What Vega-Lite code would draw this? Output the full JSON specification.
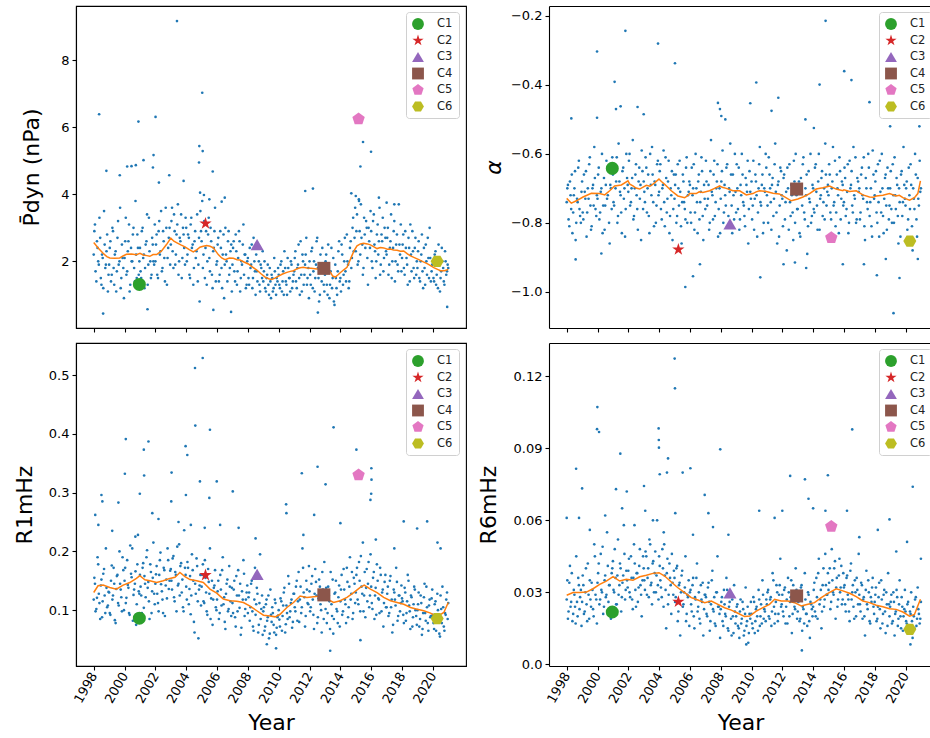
{
"$schema":"https://vega.github.io/schema/vega-lite/v6.json",
"padding":{"left":12,"top":5,"right":0,"bottom":0},
"autosize":{"type":"pad"},
"bounds":"flush",
"columns":2,
"spacing":{"row":15,"column":83},
"config":{
 "font":"DejaVu Sans",
 "view":{"stroke":"black","strokeWidth":1.1},
 "axis":{"grid":false,"domainColor":"black","domainWidth":1.1,"tickColor":"black","tickWidth":1.1,"tickSize":4,"labelColor":"black","labelFontSize":13,"labelPadding":3,"titleColor":"black","titleFontSize":22,"titleFontWeight":"normal"}
},
"resolve":{"scale":{"x":"independent","y":"independent","color":"independent","shape":"independent"},"legend":{"color":"independent","shape":"independent"}},
"datasets":{
"cs":[
{"c":"C1","t":2000.96,"p":1.31,"a":-0.642,"r":0.0864,"s":0.0218},
{"c":"C2","t":2005.25,"p":3.13,"a":-0.877,"r":0.1596,"s":0.0261},
{"c":"C3","t":2008.6,"p":2.5,"a":-0.803,"r":0.161,"s":0.0298},
{"c":"C4","t":2012.93,"p":1.79,"a":-0.702,"r":0.126,"s":0.0285},
{"c":"C5","t":2015.18,"p":6.25,"a":-0.8435,"r":0.33,"s":0.0574},
{"c":"C6","t":2020.28,"p":2.0,"a":-0.853,"r":0.0857,"s":0.0146}
],
"lp":[{"t":1998.0,"p":2.56},{"t":1998.3,"p":2.39},{"t":1998.61,"p":2.24},{"t":1998.85,"p":2.14},{"t":1999.04,"p":2.1},{"t":1999.35,"p":2.09},{"t":1999.69,"p":2.1},{"t":1999.9,"p":2.16},{"t":2000.12,"p":2.21},{"t":2000.45,"p":2.22},{"t":2000.77,"p":2.2},{"t":2001.0,"p":2.24},{"t":2001.21,"p":2.19},{"t":2001.45,"p":2.17},{"t":2001.64,"p":2.15},{"t":2001.85,"p":2.2},{"t":2002.08,"p":2.2},{"t":2002.4,"p":2.31},{"t":2002.72,"p":2.5},{"t":2003.0,"p":2.69},{"t":2003.2,"p":2.6},{"t":2003.37,"p":2.56},{"t":2003.65,"p":2.49},{"t":2003.92,"p":2.43},{"t":2004.2,"p":2.35},{"t":2004.46,"p":2.28},{"t":2004.7,"p":2.35},{"t":2004.89,"p":2.42},{"t":2005.1,"p":2.45},{"t":2005.33,"p":2.47},{"t":2005.55,"p":2.45},{"t":2005.76,"p":2.4},{"t":2006.08,"p":2.2},{"t":2006.3,"p":2.1},{"t":2006.52,"p":2.05},{"t":2006.8,"p":2.1},{"t":2007.06,"p":2.09},{"t":2007.3,"p":2.05},{"t":2007.49,"p":2.04},{"t":2007.75,"p":1.98},{"t":2008.03,"p":1.92},{"t":2008.3,"p":1.83},{"t":2008.58,"p":1.74},{"t":2008.85,"p":1.63},{"t":2009.12,"p":1.53},{"t":2009.35,"p":1.48},{"t":2009.55,"p":1.46},{"t":2009.75,"p":1.5},{"t":2009.99,"p":1.56},{"t":2010.25,"p":1.62},{"t":2010.53,"p":1.67},{"t":2010.75,"p":1.7},{"t":2010.96,"p":1.72},{"t":2011.2,"p":1.78},{"t":2011.39,"p":1.81},{"t":2011.6,"p":1.82},{"t":2011.83,"p":1.8},{"t":2012.1,"p":1.79},{"t":2012.48,"p":1.77},{"t":2012.7,"p":1.79},{"t":2012.91,"p":1.8},{"t":2013.15,"p":1.76},{"t":2013.34,"p":1.69},{"t":2013.5,"p":1.56},{"t":2013.67,"p":1.53},{"t":2013.85,"p":1.6},{"t":2013.99,"p":1.66},{"t":2014.2,"p":1.74},{"t":2014.43,"p":1.82},{"t":2014.6,"p":2.0},{"t":2014.75,"p":2.17},{"t":2014.9,"p":2.33},{"t":2015.08,"p":2.46},{"t":2015.3,"p":2.52},{"t":2015.51,"p":2.54},{"t":2015.75,"p":2.52},{"t":2015.95,"p":2.49},{"t":2016.15,"p":2.44},{"t":2016.38,"p":2.38},{"t":2016.6,"p":2.41},{"t":2016.81,"p":2.4},{"t":2017.05,"p":2.36},{"t":2017.25,"p":2.37},{"t":2017.45,"p":2.34},{"t":2017.68,"p":2.33},{"t":2017.9,"p":2.3},{"t":2018.11,"p":2.31},{"t":2018.35,"p":2.22},{"t":2018.55,"p":2.16},{"t":2018.8,"p":2.11},{"t":2019.09,"p":2.05},{"t":2019.35,"p":1.99},{"t":2019.63,"p":1.93},{"t":2019.85,"p":1.87},{"t":2020.06,"p":1.81},{"t":2020.3,"p":1.76},{"t":2020.5,"p":1.72},{"t":2020.75,"p":1.72},{"t":2021.0,"p":1.76}],
"la":[{"t":1998.0,"a":-0.729},{"t":1998.3,"a":-0.743},{"t":1998.63,"a":-0.736},{"t":1999.06,"a":-0.725},{"t":1999.6,"a":-0.714},{"t":2000.14,"a":-0.715},{"t":2000.47,"a":-0.719},{"t":2000.79,"a":-0.707},{"t":2001.11,"a":-0.693},{"t":2001.55,"a":-0.69},{"t":2001.98,"a":-0.678},{"t":2002.1,"a":-0.688},{"t":2002.3,"a":-0.693},{"t":2002.5,"a":-0.699},{"t":2002.74,"a":-0.702},{"t":2003.17,"a":-0.691},{"t":2003.4,"a":-0.694},{"t":2003.6,"a":-0.688},{"t":2003.99,"a":-0.673},{"t":2004.15,"a":-0.68},{"t":2004.36,"a":-0.688},{"t":2004.79,"a":-0.707},{"t":2005.22,"a":-0.722},{"t":2005.66,"a":-0.727},{"t":2005.9,"a":-0.72},{"t":2005.98,"a":-0.715},{"t":2006.41,"a":-0.715},{"t":2006.6,"a":-0.71},{"t":2006.84,"a":-0.712},{"t":2007.28,"a":-0.707},{"t":2007.6,"a":-0.70},{"t":2007.93,"a":-0.693},{"t":2008.1,"a":-0.697},{"t":2008.36,"a":-0.70},{"t":2008.79,"a":-0.707},{"t":2009.23,"a":-0.707},{"t":2009.66,"a":-0.719},{"t":2010.09,"a":-0.715},{"t":2010.3,"a":-0.71},{"t":2010.52,"a":-0.707},{"t":2010.96,"a":-0.709},{"t":2011.39,"a":-0.714},{"t":2011.8,"a":-0.716},{"t":2012.04,"a":-0.722},{"t":2012.58,"a":-0.736},{"t":2013.01,"a":-0.731},{"t":2013.34,"a":-0.725},{"t":2013.77,"a":-0.715},{"t":2014.2,"a":-0.702},{"t":2014.63,"a":-0.698},{"t":2014.9,"a":-0.695},{"t":2015.07,"a":-0.693},{"t":2015.5,"a":-0.702},{"t":2015.93,"a":-0.707},{"t":2016.0,"a":-0.704},{"t":2016.37,"a":-0.709},{"t":2016.8,"a":-0.707},{"t":2017.23,"a":-0.719},{"t":2017.66,"a":-0.725},{"t":2017.9,"a":-0.726},{"t":2018.1,"a":-0.722},{"t":2018.53,"a":-0.72},{"t":2018.96,"a":-0.715},{"t":2019.39,"a":-0.722},{"t":2019.6,"a":-0.72},{"t":2019.83,"a":-0.727},{"t":2020.26,"a":-0.734},{"t":2020.58,"a":-0.727},{"t":2020.8,"a":-0.715},{"t":2020.97,"a":-0.678}],
"lr":[{"t":1998.0,"r":0.130},{"t":1998.28,"r":0.1415},{"t":1998.61,"r":0.1426},{"t":1999.04,"r":0.1386},{"t":1999.47,"r":0.1358},{"t":1999.91,"r":0.1426},{"t":2000.34,"r":0.147},{"t":2000.77,"r":0.154},{"t":2000.99,"r":0.1585},{"t":2001.32,"r":0.1517},{"t":2001.64,"r":0.150},{"t":2002.08,"r":0.147},{"t":2002.51,"r":0.150},{"t":2002.94,"r":0.154},{"t":2003.27,"r":0.156},{"t":2003.59,"r":0.164},{"t":2003.92,"r":0.157},{"t":2004.24,"r":0.152},{"t":2004.68,"r":0.15},{"t":2005.11,"r":0.147},{"t":2005.54,"r":0.1358},{"t":2005.98,"r":0.129},{"t":2006.41,"r":0.119},{"t":2006.84,"r":0.116},{"t":2007.28,"r":0.115},{"t":2007.71,"r":0.113},{"t":2008.14,"r":0.107},{"t":2008.58,"r":0.099},{"t":2009.01,"r":0.0915},{"t":2009.44,"r":0.090},{"t":2009.77,"r":0.0886},{"t":2010.09,"r":0.093},{"t":2010.53,"r":0.1045},{"t":2010.96,"r":0.113},{"t":2011.39,"r":0.124},{"t":2011.83,"r":0.1216},{"t":2012.26,"r":0.123},{"t":2012.69,"r":0.124},{"t":2013.13,"r":0.119},{"t":2013.56,"r":0.113},{"t":2013.99,"r":0.116},{"t":2014.43,"r":0.1216},{"t":2014.86,"r":0.130},{"t":2015.29,"r":0.1386},{"t":2015.55,"r":0.1426},{"t":2015.95,"r":0.1358},{"t":2016.38,"r":0.130},{"t":2016.81,"r":0.1216},{"t":2017.25,"r":0.116},{"t":2017.68,"r":0.113},{"t":2018.11,"r":0.110},{"t":2018.55,"r":0.1045},{"t":2018.98,"r":0.1017},{"t":2019.41,"r":0.099},{"t":2019.85,"r":0.095},{"t":2020.28,"r":0.089},{"t":2020.71,"r":0.096},{"t":2021.0,"r":0.113}],
"ls":[{"t":1998.0,"s":0.0288},{"t":1998.41,"s":0.0299},{"t":1998.84,"s":0.0299},{"t":1999.28,"s":0.0301},{"t":1999.71,"s":0.0315},{"t":2000.14,"s":0.0333},{"t":2000.57,"s":0.0347},{"t":2001.01,"s":0.0365},{"t":2001.44,"s":0.0347},{"t":2001.87,"s":0.0354},{"t":2002.3,"s":0.035},{"t":2002.74,"s":0.0365},{"t":2003.17,"s":0.0371},{"t":2003.6,"s":0.0379},{"t":2003.99,"s":0.0382},{"t":2004.36,"s":0.0368},{"t":2004.79,"s":0.0343},{"t":2005.22,"s":0.0319},{"t":2005.66,"s":0.0299},{"t":2006.09,"s":0.0278},{"t":2006.52,"s":0.0268},{"t":2006.96,"s":0.0257},{"t":2007.39,"s":0.0264},{"t":2007.82,"s":0.025},{"t":2008.25,"s":0.0236},{"t":2008.69,"s":0.0226},{"t":2009.12,"s":0.0213},{"t":2009.55,"s":0.0199},{"t":2009.88,"s":0.0201},{"t":2010.31,"s":0.0222},{"t":2010.74,"s":0.0236},{"t":2011.17,"s":0.025},{"t":2011.5,"s":0.0271},{"t":2011.93,"s":0.0264},{"t":2012.36,"s":0.0264},{"t":2012.8,"s":0.0257},{"t":2013.23,"s":0.0243},{"t":2013.66,"s":0.025},{"t":2014.09,"s":0.0257},{"t":2014.53,"s":0.0278},{"t":2014.96,"s":0.0296},{"t":2015.5,"s":0.0315},{"t":2015.93,"s":0.0306},{"t":2016.37,"s":0.0296},{"t":2016.8,"s":0.0282},{"t":2017.23,"s":0.0264},{"t":2017.66,"s":0.0257},{"t":2018.1,"s":0.0246},{"t":2018.53,"s":0.024},{"t":2018.96,"s":0.0232},{"t":2019.39,"s":0.0229},{"t":2019.83,"s":0.0218},{"t":2020.26,"s":0.0201},{"t":2020.58,"s":0.0208},{"t":2020.97,"s":0.0271}],
"pts":[
{"t":1998.04,"p":2.9,"a":-0.70,"r":0.155,"s":0.035},{"t":1998.12,"p":1.7,"a":-0.79,"r":0.098,"s":0.022},{"t":1998.21,"p":2.6,"a":-0.68,"r":0.121,"s":0.041},{"t":1998.29,"p":2.0,"a":-0.76,"r":0.178,"s":0.026},{"t":1998.37,"p":3.3,"a":-0.83,"r":0.112,"s":0.018},{"t":1998.46,"p":1.5,"a":-0.72,"r":0.142,"s":0.031},{"t":1998.54,"p":2.2,"a":-0.65,"r":0.088,"s":0.024},{"t":1998.62,"p":1.2,"a":-0.80,"r":0.162,"s":0.045},{"t":1998.71,"p":2.5,"a":-0.74,"r":0.125,"s":0.020},{"t":1998.79,"p":1.9,"a":-0.62,"r":0.205,"s":0.033},{"t":1998.87,"p":2.8,"a":-0.78,"r":0.105,"s":0.028},{"t":1998.96,"p":1.6,"a":-0.71,"r":0.131,"s":0.016},
{"t":1999.04,"p":2.4,"a":-0.77,"r":0.095,"s":0.037},{"t":1999.12,"p":1.4,"a":-0.66,"r":0.150,"s":0.021},{"t":1999.21,"p":3.0,"a":-0.73,"r":0.118,"s":0.030},{"t":1999.29,"p":1.8,"a":-0.84,"r":0.172,"s":0.025},{"t":1999.37,"p":2.2,"a":-0.70,"r":0.083,"s":0.042},{"t":1999.46,"p":1.1,"a":-0.63,"r":0.136,"s":0.019},{"t":1999.54,"p":2.7,"a":-0.75,"r":0.160,"s":0.027},{"t":1999.62,"p":1.9,"a":-0.81,"r":0.108,"s":0.034},{"t":1999.71,"p":3.6,"a":-0.69,"r":0.145,"s":0.023},{"t":1999.79,"p":1.5,"a":-0.58,"r":0.122,"s":0.050},{"t":1999.87,"p":2.1,"a":-0.76,"r":0.190,"s":0.029},{"t":1999.96,"p":0.9,"a":-0.72,"r":0.100,"s":0.017},
{"t":2000.04,"p":2.6,"a":-0.66,"r":0.172,"s":0.038},{"t":2000.12,"p":1.6,"a":-0.79,"r":0.121,"s":0.025},{"t":2000.21,"p":2.3,"a":-0.71,"r":0.143,"s":0.046},{"t":2000.29,"p":3.1,"a":-0.60,"r":0.095,"s":0.030},{"t":2000.37,"p":1.3,"a":-0.75,"r":0.210,"s":0.021},{"t":2000.46,"p":2.0,"a":-0.82,"r":0.156,"s":0.035},{"t":2000.54,"p":2.8,"a":-0.69,"r":0.082,"s":0.028},{"t":2000.62,"p":1.8,"a":-0.73,"r":0.135,"s":0.055},{"t":2000.71,"p":3.8,"a":-0.64,"r":0.166,"s":0.026},{"t":2000.79,"p":1.5,"a":-0.86,"r":0.110,"s":0.033},{"t":2000.87,"p":2.4,"a":-0.70,"r":0.228,"s":0.019},{"t":2000.96,"p":2.0,"a":-0.61,"r":0.128,"s":0.040},
{"t":2001.04,"p":1.7,"a":-0.74,"r":0.140,"s":0.031},{"t":2001.12,"p":2.9,"a":-0.63,"r":0.095,"s":0.048},{"t":2001.21,"p":2.1,"a":-0.68,"r":0.180,"s":0.025},{"t":2001.29,"p":1.2,"a":-0.80,"r":0.158,"s":0.037},{"t":2001.37,"p":2.5,"a":-0.57,"r":0.122,"s":0.029},{"t":2001.46,"p":3.4,"a":-0.71,"r":0.202,"s":0.042},{"t":2001.54,"p":1.9,"a":-0.77,"r":0.148,"s":0.022},{"t":2001.62,"p":2.3,"a":-0.65,"r":0.085,"s":0.034},{"t":2001.71,"p":1.5,"a":-0.73,"r":0.165,"s":0.058},{"t":2001.79,"p":2.7,"a":-0.84,"r":0.132,"s":0.027},{"t":2001.87,"p":2.0,"a":-0.60,"r":0.215,"s":0.039},{"t":2001.96,"p":3.1,"a":-0.69,"r":0.110,"s":0.032},
{"t":2002.04,"p":2.5,"a":-0.62,"r":0.161,"s":0.044},{"t":2002.12,"p":1.6,"a":-0.75,"r":0.128,"s":0.028},{"t":2002.21,"p":2.9,"a":-0.70,"r":0.098,"s":0.036},{"t":2002.29,"p":2.2,"a":-0.56,"r":0.185,"s":0.023},{"t":2002.37,"p":3.5,"a":-0.78,"r":0.144,"s":0.050},{"t":2002.46,"p":1.8,"a":-0.66,"r":0.118,"s":0.031},{"t":2002.54,"p":2.6,"a":-0.72,"r":0.172,"s":0.038},{"t":2002.62,"p":1.4,"a":-0.82,"r":0.090,"s":0.026},{"t":2002.71,"p":3.0,"a":-0.64,"r":0.152,"s":0.041},{"t":2002.79,"p":2.1,"a":-0.69,"r":0.205,"s":0.033},{"t":2002.87,"p":2.7,"a":-0.59,"r":0.136,"s":0.020},{"t":2002.96,"p":1.9,"a":-0.76,"r":0.167,"s":0.045},
{"t":2003.04,"p":3.2,"a":-0.71,"r":0.150,"s":0.035},{"t":2003.12,"p":2.3,"a":-0.61,"r":0.188,"s":0.047},{"t":2003.21,"p":3.4,"a":-0.77,"r":0.122,"s":0.029},{"t":2003.29,"p":1.9,"a":-0.66,"r":0.165,"s":0.040},{"t":2003.37,"p":2.8,"a":-0.83,"r":0.098,"s":0.052},{"t":2003.46,"p":3.7,"a":-0.69,"r":0.142,"s":0.033},{"t":2003.54,"p":2.0,"a":-0.58,"r":0.212,"s":0.025},{"t":2003.62,"p":2.6,"a":-0.74,"r":0.175,"s":0.043},{"t":2003.71,"p":1.5,"a":-0.68,"r":0.130,"s":0.038},{"t":2003.79,"p":3.0,"a":-0.80,"r":0.105,"s":0.030},{"t":2003.87,"p":2.4,"a":-0.63,"r":0.236,"s":0.060},{"t":2003.96,"p":3.3,"a":-0.72,"r":0.160,"s":0.027},
{"t":2004.04,"p":2.0,"a":-0.65,"r":0.118,"s":0.041},{"t":2004.12,"p":2.8,"a":-0.76,"r":0.172,"s":0.032},{"t":2004.21,"p":1.6,"a":-0.70,"r":0.136,"s":0.048},{"t":2004.29,"p":3.1,"a":-0.59,"r":0.093,"s":0.024},{"t":2004.37,"p":2.4,"a":-0.81,"r":0.195,"s":0.037},{"t":2004.46,"p":1.3,"a":-0.67,"r":0.150,"s":0.015},{"t":2004.54,"p":2.6,"a":-0.73,"r":0.062,"s":0.044},{"t":2004.62,"p":2.1,"a":-0.62,"r":0.128,"s":0.029},{"t":2004.71,"p":3.4,"a":-0.78,"r":0.175,"s":0.036},{"t":2004.79,"p":1.9,"a":-0.72,"r":0.052,"s":0.021},{"t":2004.87,"p":0.8,"a":-0.85,"r":0.142,"s":0.034},{"t":2004.96,"p":2.9,"a":-0.66,"r":0.108,"s":0.039},
{"t":2005.04,"p":3.8,"a":-0.69,"r":0.160,"s":0.026},{"t":2005.12,"p":2.2,"a":-0.80,"r":0.115,"s":0.040},{"t":2005.21,"p":1.5,"a":-0.63,"r":0.185,"s":0.018},{"t":2005.29,"p":2.9,"a":-0.75,"r":0.130,"s":0.033},{"t":2005.37,"p":2.0,"a":-0.71,"r":0.092,"s":0.012},{"t":2005.46,"p":3.3,"a":-0.86,"r":0.148,"s":0.037},{"t":2005.54,"p":1.7,"a":-0.66,"r":0.205,"s":0.024},{"t":2005.62,"p":2.6,"a":-0.74,"r":0.120,"s":0.030},{"t":2005.71,"p":1.2,"a":-0.79,"r":0.075,"s":0.045},{"t":2005.79,"p":2.4,"a":-0.61,"r":0.138,"s":0.021},{"t":2005.87,"p":3.6,"a":-0.72,"r":0.168,"s":0.028},{"t":2005.96,"p":1.9,"a":-0.68,"r":0.100,"s":0.016},
{"t":2006.04,"p":2.5,"a":-0.77,"r":0.132,"s":0.031},{"t":2006.12,"p":1.4,"a":-0.64,"r":0.085,"s":0.022},{"t":2006.21,"p":2.9,"a":-0.70,"r":0.160,"s":0.036},{"t":2006.29,"p":1.8,"a":-0.82,"r":0.108,"s":0.015},{"t":2006.37,"p":2.2,"a":-0.60,"r":0.190,"s":0.027},{"t":2006.46,"p":0.9,"a":-0.74,"r":0.122,"s":0.042},{"t":2006.54,"p":3.0,"a":-0.68,"r":0.068,"s":0.024},{"t":2006.62,"p":2.0,"a":-0.79,"r":0.145,"s":0.019},{"t":2006.71,"p":2.6,"a":-0.71,"r":0.098,"s":0.033},{"t":2006.79,"p":1.6,"a":-0.65,"r":0.175,"s":0.026},{"t":2006.87,"p":2.3,"a":-0.85,"r":0.115,"s":0.012},{"t":2006.96,"p":1.1,"a":-0.73,"r":0.138,"s":0.029},
{"t":2007.04,"p":2.4,"a":-0.62,"r":0.095,"s":0.028},{"t":2007.12,"p":1.7,"a":-0.75,"r":0.150,"s":0.020},{"t":2007.21,"p":2.8,"a":-0.69,"r":0.072,"s":0.034},{"t":2007.29,"p":1.3,"a":-0.80,"r":0.125,"s":0.014},{"t":2007.37,"p":2.1,"a":-0.56,"r":0.168,"s":0.025},{"t":2007.46,"p":2.6,"a":-0.72,"r":0.104,"s":0.039},{"t":2007.54,"p":1.5,"a":-0.66,"r":0.058,"s":0.022},{"t":2007.62,"p":1.9,"a":-0.78,"r":0.132,"s":0.017},{"t":2007.71,"p":3.1,"a":-0.70,"r":0.185,"s":0.030},{"t":2007.79,"p":2.2,"a":-0.63,"r":0.090,"s":0.045},{"t":2007.87,"p":1.2,"a":-0.76,"r":0.118,"s":0.024},{"t":2007.96,"p":2.0,"a":-0.83,"r":0.142,"s":0.011},
{"t":2008.04,"p":1.5,"a":-0.68,"r":0.122,"s":0.026},{"t":2008.12,"p":2.4,"a":-0.59,"r":0.082,"s":0.018},{"t":2008.21,"p":1.9,"a":-0.77,"r":0.145,"s":0.031},{"t":2008.29,"p":1.2,"a":-0.72,"r":0.098,"s":0.021},{"t":2008.37,"p":2.7,"a":-0.64,"r":0.065,"s":0.036},{"t":2008.46,"p":1.7,"a":-0.81,"r":0.172,"s":0.015},{"t":2008.54,"p":2.2,"a":-0.70,"r":0.110,"s":0.024},{"t":2008.62,"p":1.4,"a":-0.57,"r":0.128,"s":0.029},{"t":2008.71,"p":2.0,"a":-0.75,"r":0.075,"s":0.012},{"t":2008.79,"p":1.1,"a":-0.66,"r":0.195,"s":0.020},{"t":2008.87,"p":1.8,"a":-0.79,"r":0.102,"s":0.033},{"t":2008.96,"p":2.3,"a":-0.71,"r":0.058,"s":0.017},
{"t":2009.04,"p":1.7,"a":-0.63,"r":0.105,"s":0.024},{"t":2009.12,"p":1.2,"a":-0.76,"r":0.072,"s":0.016},{"t":2009.21,"p":1.5,"a":-0.82,"r":0.118,"s":0.011},{"t":2009.29,"p":1.9,"a":-0.69,"r":0.088,"s":0.027},{"t":2009.37,"p":1.0,"a":-0.60,"r":0.052,"s":0.019},{"t":2009.46,"p":1.4,"a":-0.74,"r":0.135,"s":0.023},{"t":2009.54,"p":1.6,"a":-0.78,"r":0.080,"s":0.014},{"t":2009.62,"p":1.1,"a":-0.67,"r":0.095,"s":0.032},{"t":2009.71,"p":2.1,"a":-0.71,"r":0.062,"s":0.018},{"t":2009.79,"p":1.3,"a":-0.86,"r":0.112,"s":0.009},{"t":2009.87,"p":1.5,"a":-0.65,"r":0.070,"s":0.021},{"t":2009.96,"p":1.8,"a":-0.73,"r":0.091,"s":0.026},
{"t":2010.04,"p":1.3,"a":-0.79,"r":0.084,"s":0.017},{"t":2010.12,"p":1.9,"a":-0.62,"r":0.120,"s":0.028},{"t":2010.21,"p":1.1,"a":-0.73,"r":0.065,"s":0.013},{"t":2010.29,"p":1.7,"a":-0.68,"r":0.108,"s":0.023},{"t":2010.37,"p":2.3,"a":-0.84,"r":0.138,"s":0.020},{"t":2010.46,"p":1.4,"a":-0.70,"r":0.076,"s":0.031},{"t":2010.54,"p":1.0,"a":-0.58,"r":0.095,"s":0.016},{"t":2010.62,"p":1.8,"a":-0.75,"r":0.158,"s":0.025},{"t":2010.71,"p":1.5,"a":-0.66,"r":0.088,"s":0.035},{"t":2010.79,"p":2.0,"a":-0.80,"r":0.112,"s":0.019},{"t":2010.87,"p":1.2,"a":-0.71,"r":0.070,"s":0.022},{"t":2010.96,"p":1.6,"a":-0.64,"r":0.128,"s":0.027},
{"t":2011.04,"p":2.1,"a":-0.75,"r":0.105,"s":0.030},{"t":2011.12,"p":1.4,"a":-0.61,"r":0.140,"s":0.020},{"t":2011.21,"p":1.8,"a":-0.70,"r":0.082,"s":0.027},{"t":2011.29,"p":2.5,"a":-0.82,"r":0.165,"s":0.016},{"t":2011.37,"p":1.0,"a":-0.67,"r":0.118,"s":0.038},{"t":2011.46,"p":1.6,"a":-0.73,"r":0.095,"s":0.024},{"t":2011.54,"p":2.2,"a":-0.57,"r":0.205,"s":0.021},{"t":2011.62,"p":1.3,"a":-0.77,"r":0.130,"s":0.033},{"t":2011.71,"p":1.9,"a":-0.69,"r":0.072,"s":0.018},{"t":2011.79,"p":2.7,"a":-0.84,"r":0.150,"s":0.029},{"t":2011.87,"p":1.5,"a":-0.64,"r":0.112,"s":0.044},{"t":2011.96,"p":0.9,"a":-0.72,"r":0.175,"s":0.025},
{"t":2012.04,"p":1.6,"a":-0.81,"r":0.098,"s":0.022},{"t":2012.12,"p":2.3,"a":-0.66,"r":0.145,"s":0.031},{"t":2012.21,"p":1.2,"a":-0.74,"r":0.118,"s":0.017},{"t":2012.29,"p":2.0,"a":-0.88,"r":0.068,"s":0.027},{"t":2012.37,"p":1.5,"a":-0.70,"r":0.170,"s":0.036},{"t":2012.46,"p":2.6,"a":-0.63,"r":0.125,"s":0.020},{"t":2012.54,"p":1.8,"a":-0.78,"r":0.088,"s":0.028},{"t":2012.62,"p":0.8,"a":-0.72,"r":0.152,"s":0.013},{"t":2012.71,"p":2.2,"a":-0.85,"r":0.110,"s":0.033},{"t":2012.79,"p":1.4,"a":-0.68,"r":0.062,"s":0.024},{"t":2012.87,"p":1.9,"a":-0.60,"r":0.135,"s":0.040},{"t":2012.96,"p":1.1,"a":-0.76,"r":0.182,"s":0.019},
{"t":2013.04,"p":2.0,"a":-0.70,"r":0.102,"s":0.026},{"t":2013.12,"p":1.3,"a":-0.83,"r":0.078,"s":0.018},{"t":2013.21,"p":2.5,"a":-0.67,"r":0.140,"s":0.032},{"t":2013.29,"p":0.9,"a":-0.75,"r":0.115,"s":0.014},{"t":2013.37,"p":1.7,"a":-0.61,"r":0.165,"s":0.023},{"t":2013.46,"p":1.2,"a":-0.79,"r":0.090,"s":0.038},{"t":2013.54,"p":2.1,"a":-0.72,"r":0.060,"s":0.021},{"t":2013.62,"p":0.7,"a":-0.89,"r":0.128,"s":0.016},{"t":2013.71,"p":1.5,"a":-0.65,"r":0.150,"s":0.029},{"t":2013.79,"p":1.0,"a":-0.74,"r":0.098,"s":0.011},{"t":2013.87,"p":2.3,"a":-0.80,"r":0.122,"s":0.025},{"t":2013.96,"p":1.4,"a":-0.69,"r":0.072,"s":0.020},
{"t":2014.04,"p":1.1,"a":-0.76,"r":0.135,"s":0.031},{"t":2014.12,"p":2.2,"a":-0.64,"r":0.092,"s":0.022},{"t":2014.21,"p":1.6,"a":-0.71,"r":0.170,"s":0.036},{"t":2014.29,"p":2.7,"a":-0.82,"r":0.118,"s":0.019},{"t":2014.37,"p":1.4,"a":-0.60,"r":0.078,"s":0.044},{"t":2014.46,"p":2.0,"a":-0.73,"r":0.148,"s":0.027},{"t":2014.54,"p":1.2,"a":-0.67,"r":0.105,"s":0.015},{"t":2014.62,"p":2.4,"a":-0.78,"r":0.190,"s":0.033},{"t":2014.71,"p":1.8,"a":-0.70,"r":0.128,"s":0.024},{"t":2014.79,"p":3.0,"a":-0.57,"r":0.085,"s":0.046},{"t":2014.87,"p":2.3,"a":-0.75,"r":0.155,"s":0.029},{"t":2014.96,"p":3.6,"a":-0.69,"r":0.112,"s":0.038},
{"t":2015.04,"p":2.9,"a":-0.63,"r":0.160,"s":0.034},{"t":2015.12,"p":1.9,"a":-0.77,"r":0.118,"s":0.023},{"t":2015.21,"p":3.8,"a":-0.70,"r":0.182,"s":0.048},{"t":2015.29,"p":2.2,"a":-0.58,"r":0.098,"s":0.030},{"t":2015.37,"p":2.7,"a":-0.74,"r":0.140,"s":0.040},{"t":2015.46,"p":1.6,"a":-0.81,"r":0.215,"s":0.019},{"t":2015.54,"p":3.3,"a":-0.66,"r":0.125,"s":0.036},{"t":2015.62,"p":2.4,"a":-0.72,"r":0.088,"s":0.027},{"t":2015.71,"p":3.0,"a":-0.61,"r":0.170,"s":0.044},{"t":2015.79,"p":1.3,"a":-0.79,"r":0.145,"s":0.032},{"t":2015.87,"p":2.6,"a":-0.68,"r":0.105,"s":0.025},{"t":2015.96,"p":3.5,"a":-0.75,"r":0.195,"s":0.038},
{"t":2016.04,"p":2.0,"a":-0.64,"r":0.112,"s":0.033},{"t":2016.12,"p":3.2,"a":-0.78,"r":0.155,"s":0.022},{"t":2016.21,"p":2.5,"a":-0.71,"r":0.085,"s":0.037},{"t":2016.29,"p":1.5,"a":-0.83,"r":0.138,"s":0.027},{"t":2016.37,"p":2.8,"a":-0.62,"r":0.178,"s":0.018},{"t":2016.46,"p":2.2,"a":-0.69,"r":0.120,"s":0.042},{"t":2016.54,"p":3.6,"a":-0.75,"r":0.095,"s":0.030},{"t":2016.62,"p":1.9,"a":-0.58,"r":0.160,"s":0.024},{"t":2016.71,"p":2.6,"a":-0.73,"r":0.130,"s":0.035},{"t":2016.79,"p":1.7,"a":-0.80,"r":0.072,"s":0.020},{"t":2016.87,"p":3.0,"a":-0.67,"r":0.148,"s":0.031},{"t":2016.96,"p":2.3,"a":-0.71,"r":0.105,"s":0.046},
{"t":2017.04,"p":2.7,"a":-0.79,"r":0.128,"s":0.025},{"t":2017.12,"p":1.6,"a":-0.66,"r":0.090,"s":0.034},{"t":2017.21,"p":2.4,"a":-0.72,"r":0.150,"s":0.019},{"t":2017.29,"p":3.4,"a":-0.61,"r":0.105,"s":0.028},{"t":2017.37,"p":2.0,"a":-0.85,"r":0.062,"s":0.012},{"t":2017.46,"p":2.9,"a":-0.70,"r":0.135,"s":0.039},{"t":2017.54,"p":1.4,"a":-0.76,"r":0.118,"s":0.023},{"t":2017.62,"p":2.5,"a":-0.64,"r":0.172,"s":0.030},{"t":2017.71,"p":1.9,"a":-0.74,"r":0.082,"s":0.017},{"t":2017.79,"p":3.7,"a":-0.81,"r":0.125,"s":0.026},{"t":2017.87,"p":2.2,"a":-0.59,"r":0.098,"s":0.036},{"t":2017.96,"p":1.7,"a":-0.73,"r":0.142,"s":0.021},
{"t":2018.04,"p":2.5,"a":-0.68,"r":0.115,"s":0.029},{"t":2018.12,"p":1.8,"a":-0.77,"r":0.078,"s":0.018},{"t":2018.21,"p":2.9,"a":-0.63,"r":0.130,"s":0.024},{"t":2018.29,"p":2.1,"a":-0.84,"r":0.095,"s":0.034},{"t":2018.37,"p":1.3,"a":-0.71,"r":0.160,"s":0.015},{"t":2018.46,"p":2.4,"a":-0.60,"r":0.108,"s":0.027},{"t":2018.54,"p":3.1,"a":-0.78,"r":0.068,"s":0.021},{"t":2018.62,"p":1.7,"a":-0.73,"r":0.122,"s":0.031},{"t":2018.71,"p":2.3,"a":-0.66,"r":0.088,"s":0.013},{"t":2018.79,"p":1.5,"a":-0.82,"r":0.140,"s":0.025},{"t":2018.87,"p":2.7,"a":-0.70,"r":0.100,"s":0.038},{"t":2018.96,"p":2.0,"a":-0.75,"r":0.075,"s":0.020},
{"t":2019.04,"p":2.3,"a":-0.65,"r":0.110,"s":0.026},{"t":2019.12,"p":1.5,"a":-0.80,"r":0.072,"s":0.017},{"t":2019.21,"p":2.0,"a":-0.72,"r":0.125,"s":0.030},{"t":2019.29,"p":2.8,"a":-0.61,"r":0.058,"s":0.012},{"t":2019.37,"p":1.2,"a":-0.76,"r":0.095,"s":0.022},{"t":2019.46,"p":1.8,"a":-0.69,"r":0.145,"s":0.028},{"t":2019.54,"p":2.5,"a":-0.86,"r":0.082,"s":0.019},{"t":2019.62,"p":1.6,"a":-0.74,"r":0.105,"s":0.035},{"t":2019.71,"p":2.1,"a":-0.66,"r":0.065,"s":0.015},{"t":2019.79,"p":3.0,"a":-0.78,"r":0.118,"s":0.024},{"t":2019.87,"p":1.4,"a":-0.58,"r":0.090,"s":0.020},{"t":2019.96,"p":1.9,"a":-0.73,"r":0.135,"s":0.031},
{"t":2020.04,"p":1.5,"a":-0.70,"r":0.078,"s":0.018},{"t":2020.12,"p":2.2,"a":-0.82,"r":0.110,"s":0.025},{"t":2020.21,"p":1.3,"a":-0.64,"r":0.065,"s":0.014},{"t":2020.29,"p":1.9,"a":-0.76,"r":0.128,"s":0.022},{"t":2020.37,"p":2.5,"a":-0.69,"r":0.088,"s":0.030},{"t":2020.46,"p":1.1,"a":-0.88,"r":0.055,"s":0.011},{"t":2020.54,"p":1.7,"a":-0.73,"r":0.102,"s":0.020},{"t":2020.62,"p":2.0,"a":-0.60,"r":0.140,"s":0.027},{"t":2020.71,"p":1.4,"a":-0.79,"r":0.072,"s":0.016},{"t":2020.79,"p":2.3,"a":-0.67,"r":0.095,"s":0.032},{"t":2020.87,"p":1.6,"a":-0.75,"r":0.118,"s":0.021},{"t":2020.96,"p":1.9,"a":-0.71,"r":0.085,"s":0.019},
{"t":1998.00,"p":2.2,"a":-0.74,"r":0.118,"s":0.027},{"t":1998.08,"p":3.1,"a":-0.69,"r":0.145,"s":0.019},{"t":1998.17,"p":1.4,"a":-0.81,"r":0.102,"s":0.034},{"t":1998.25,"p":2.4,"a":-0.72,"r":0.190,"s":0.024},{"t":1998.33,"p":1.9,"a":-0.66,"r":0.128,"s":0.038},{"t":1998.42,"p":2.7,"a":-0.77,"r":0.085,"s":0.021},{"t":1998.50,"p":1.3,"a":-0.70,"r":0.152,"s":0.029},{"t":1998.58,"p":2.1,"a":-0.85,"r":0.115,"s":0.017},{"t":1998.67,"p":3.5,"a":-0.73,"r":0.170,"s":0.026},{"t":1998.75,"p":1.8,"a":-0.64,"r":0.095,"s":0.036},{"t":1998.83,"p":2.3,"a":-0.76,"r":0.138,"s":0.023},{"t":1998.92,"p":1.1,"a":-0.80,"r":0.108,"s":0.031},
{"t":1999.00,"p":1.9,"a":-0.68,"r":0.130,"s":0.026},{"t":1999.08,"p":2.6,"a":-0.79,"r":0.092,"s":0.033},{"t":1999.17,"p":1.6,"a":-0.71,"r":0.176,"s":0.022},{"t":1999.25,"p":2.9,"a":-0.65,"r":0.125,"s":0.040},{"t":1999.33,"p":1.3,"a":-0.77,"r":0.145,"s":0.018},{"t":1999.42,"p":2.3,"a":-0.73,"r":0.078,"s":0.029},{"t":1999.50,"p":1.7,"a":-0.61,"r":0.158,"s":0.035},{"t":1999.58,"p":3.2,"a":-0.82,"r":0.112,"s":0.024},{"t":1999.67,"p":2.0,"a":-0.70,"r":0.200,"s":0.031},{"t":1999.75,"p":1.2,"a":-0.75,"r":0.135,"s":0.020},{"t":1999.83,"p":2.5,"a":-0.67,"r":0.098,"s":0.045},{"t":1999.92,"p":1.8,"a":-0.78,"r":0.168,"s":0.027},
{"t":2000.00,"p":2.1,"a":-0.73,"r":0.150,"s":0.034},{"t":2000.08,"p":3.3,"a":-0.64,"r":0.112,"s":0.042},{"t":2000.17,"p":1.7,"a":-0.77,"r":0.185,"s":0.027},{"t":2000.25,"p":2.6,"a":-0.70,"r":0.138,"s":0.031},{"t":2000.33,"p":1.1,"a":-0.83,"r":0.092,"s":0.049},{"t":2000.42,"p":2.4,"a":-0.67,"r":0.162,"s":0.024},{"t":2000.50,"p":2.0,"a":-0.75,"r":0.205,"s":0.037},{"t":2000.58,"p":3.0,"a":-0.62,"r":0.126,"s":0.029},{"t":2000.67,"p":1.4,"a":-0.72,"r":0.145,"s":0.041},{"t":2000.75,"p":2.2,"a":-0.80,"r":0.075,"s":0.033},{"t":2000.83,"p":2.8,"a":-0.69,"r":0.178,"s":0.022},{"t":2000.92,"p":1.6,"a":-0.76,"r":0.132,"s":0.038},
{"t":2001.00,"p":2.4,"a":-0.66,"r":0.160,"s":0.043},{"t":2001.08,"p":1.5,"a":-0.75,"r":0.125,"s":0.030},{"t":2001.17,"p":3.0,"a":-0.70,"r":0.172,"s":0.036},{"t":2001.25,"p":2.2,"a":-0.61,"r":0.104,"s":0.025},{"t":2001.33,"p":1.8,"a":-0.78,"r":0.145,"s":0.052},{"t":2001.42,"p":2.6,"a":-0.68,"r":0.190,"s":0.033},{"t":2001.50,"p":1.3,"a":-0.72,"r":0.138,"s":0.040},{"t":2001.58,"p":3.3,"a":-0.83,"r":0.115,"s":0.028},{"t":2001.67,"p":2.0,"a":-0.64,"r":0.178,"s":0.037},{"t":2001.75,"p":1.6,"a":-0.70,"r":0.095,"s":0.046},{"t":2001.83,"p":2.5,"a":-0.76,"r":0.155,"s":0.031},{"t":2001.92,"p":1.9,"a":-0.67,"r":0.128,"s":0.035},
{"t":2002.00,"p":2.0,"a":-0.71,"r":0.145,"s":0.039},{"t":2002.08,"p":2.8,"a":-0.60,"r":0.175,"s":0.030},{"t":2002.17,"p":1.5,"a":-0.74,"r":0.112,"s":0.045},{"t":2002.25,"p":3.2,"a":-0.67,"r":0.160,"s":0.027},{"t":2002.33,"p":2.3,"a":-0.79,"r":0.198,"s":0.036},{"t":2002.42,"p":1.7,"a":-0.70,"r":0.132,"s":0.042},{"t":2002.50,"p":2.9,"a":-0.63,"r":0.095,"s":0.024},{"t":2002.58,"p":2.1,"a":-0.76,"r":0.168,"s":0.038},{"t":2002.67,"p":3.6,"a":-0.68,"r":0.142,"s":0.032},{"t":2002.75,"p":1.3,"a":-0.73,"r":0.120,"s":0.048},{"t":2002.83,"p":2.4,"a":-0.85,"r":0.185,"s":0.029},{"t":2002.92,"p":3.0,"a":-0.65,"r":0.150,"s":0.035},
{"t":2003.00,"p":2.5,"a":-0.68,"r":0.170,"s":0.040},{"t":2003.08,"p":3.6,"a":-0.74,"r":0.135,"s":0.031},{"t":2003.17,"p":1.8,"a":-0.64,"r":0.192,"s":0.045},{"t":2003.25,"p":2.9,"a":-0.70,"r":0.115,"s":0.036},{"t":2003.33,"p":2.2,"a":-0.78,"r":0.160,"s":0.028},{"t":2003.42,"p":3.1,"a":-0.60,"r":0.208,"s":0.050},{"t":2003.50,"p":1.6,"a":-0.72,"r":0.145,"s":0.034},{"t":2003.58,"p":2.7,"a":-0.66,"r":0.125,"s":0.042},{"t":2003.67,"p":3.4,"a":-0.81,"r":0.180,"s":0.030},{"t":2003.75,"p":2.1,"a":-0.69,"r":0.152,"s":0.047},{"t":2003.83,"p":2.8,"a":-0.75,"r":0.098,"s":0.037},{"t":2003.92,"p":1.9,"a":-0.62,"r":0.172,"s":0.033},
{"t":2004.00,"p":3.0,"a":-0.71,"r":0.140,"s":0.045},{"t":2004.08,"p":2.2,"a":-0.63,"r":0.182,"s":0.035},{"t":2004.17,"p":2.7,"a":-0.79,"r":0.110,"s":0.028},{"t":2004.25,"p":1.5,"a":-0.69,"r":0.158,"s":0.040},{"t":2004.33,"p":3.3,"a":-0.74,"r":0.125,"s":0.050},{"t":2004.42,"p":2.5,"a":-0.61,"r":0.168,"s":0.031},{"t":2004.50,"p":1.8,"a":-0.77,"r":0.080,"s":0.038},{"t":2004.58,"p":2.9,"a":-0.68,"r":0.145,"s":0.025},{"t":2004.67,"p":2.3,"a":-0.83,"r":0.188,"s":0.042},{"t":2004.75,"p":1.4,"a":-0.70,"r":0.115,"s":0.033},{"t":2004.83,"p":2.7,"a":-0.65,"r":0.135,"s":0.046},{"t":2004.92,"p":3.5,"a":-0.76,"r":0.160,"s":0.029},
{"t":2005.00,"p":2.6,"a":-0.73,"r":0.140,"s":0.036},{"t":2005.08,"p":1.8,"a":-0.66,"r":0.178,"s":0.028},{"t":2005.17,"p":3.2,"a":-0.78,"r":0.112,"s":0.041},{"t":2005.25,"p":2.4,"a":-0.70,"r":0.155,"s":0.022},{"t":2005.33,"p":1.3,"a":-0.62,"r":0.098,"s":0.034},{"t":2005.42,"p":2.8,"a":-0.81,"r":0.170,"s":0.030},{"t":2005.50,"p":2.1,"a":-0.74,"r":0.128,"s":0.039},{"t":2005.58,"p":3.0,"a":-0.68,"r":0.085,"s":0.025},{"t":2005.67,"p":1.6,"a":-0.76,"r":0.150,"s":0.032},{"t":2005.75,"p":2.3,"a":-0.64,"r":0.118,"s":0.018},{"t":2005.83,"p":2.9,"a":-0.80,"r":0.142,"s":0.029},{"t":2005.92,"p":1.4,"a":-0.71,"r":0.105,"s":0.035},
{"t":2006.00,"p":2.0,"a":-0.69,"r":0.118,"s":0.030},{"t":2006.08,"p":2.7,"a":-0.80,"r":0.150,"s":0.025},{"t":2006.17,"p":1.6,"a":-0.72,"r":0.095,"s":0.033},{"t":2006.25,"p":2.4,"a":-0.63,"r":0.135,"s":0.020},{"t":2006.33,"p":1.2,"a":-0.77,"r":0.168,"s":0.028},{"t":2006.42,"p":2.8,"a":-0.70,"r":0.110,"s":0.036},{"t":2006.50,"p":1.9,"a":-0.83,"r":0.080,"s":0.022},{"t":2006.58,"p":2.2,"a":-0.66,"r":0.128,"s":0.030},{"t":2006.67,"p":1.4,"a":-0.74,"r":0.152,"s":0.017},{"t":2006.75,"p":2.9,"a":-0.61,"r":0.102,"s":0.027},{"t":2006.83,"p":1.8,"a":-0.78,"r":0.140,"s":0.034},{"t":2006.92,"p":2.5,"a":-0.69,"r":0.090,"s":0.023},
{"t":2007.00,"p":1.9,"a":-0.76,"r":0.112,"s":0.029},{"t":2007.08,"p":2.6,"a":-0.68,"r":0.135,"s":0.021},{"t":2007.17,"p":1.4,"a":-0.73,"r":0.088,"s":0.032},{"t":2007.25,"p":2.3,"a":-0.82,"r":0.158,"s":0.026},{"t":2007.33,"p":1.7,"a":-0.65,"r":0.098,"s":0.018},{"t":2007.42,"p":2.9,"a":-0.71,"r":0.125,"s":0.035},{"t":2007.50,"p":1.1,"a":-0.79,"r":0.145,"s":0.023},{"t":2007.58,"p":2.0,"a":-0.62,"r":0.070,"s":0.028},{"t":2007.67,"p":2.5,"a":-0.74,"r":0.118,"s":0.016},{"t":2007.75,"p":1.6,"a":-0.68,"r":0.162,"s":0.030},{"t":2007.83,"p":2.2,"a":-0.84,"r":0.102,"s":0.024},{"t":2007.92,"p":1.3,"a":-0.70,"r":0.130,"s":0.021},
{"t":2008.00,"p":2.1,"a":-0.73,"r":0.095,"s":0.023},{"t":2008.08,"p":1.3,"a":-0.65,"r":0.130,"s":0.028},{"t":2008.17,"p":1.8,"a":-0.80,"r":0.105,"s":0.016},{"t":2008.25,"p":2.5,"a":-0.69,"r":0.150,"s":0.025},{"t":2008.33,"p":1.5,"a":-0.75,"r":0.072,"s":0.020},{"t":2008.42,"p":2.0,"a":-0.63,"r":0.118,"s":0.031},{"t":2008.50,"p":1.0,"a":-0.78,"r":0.092,"s":0.014},{"t":2008.58,"p":1.7,"a":-0.71,"r":0.138,"s":0.026},{"t":2008.67,"p":2.4,"a":-0.66,"r":0.062,"s":0.019},{"t":2008.75,"p":1.3,"a":-0.83,"r":0.112,"s":0.027},{"t":2008.83,"p":1.9,"a":-0.72,"r":0.085,"s":0.013},{"t":2008.92,"p":1.5,"a":-0.60,"r":0.125,"s":0.022},
{"t":2009.00,"p":1.4,"a":-0.77,"r":0.098,"s":0.020},{"t":2009.08,"p":2.0,"a":-0.70,"r":0.065,"s":0.025},{"t":2009.17,"p":1.1,"a":-0.64,"r":0.110,"s":0.015},{"t":2009.25,"p":1.6,"a":-0.79,"r":0.082,"s":0.022},{"t":2009.33,"p":1.3,"a":-0.72,"r":0.125,"s":0.017},{"t":2009.42,"p":1.8,"a":-0.66,"r":0.060,"s":0.026},{"t":2009.50,"p":0.9,"a":-0.75,"r":0.092,"s":0.012},{"t":2009.58,"p":1.5,"a":-0.81,"r":0.105,"s":0.021},{"t":2009.67,"p":1.2,"a":-0.69,"r":0.075,"s":0.016},{"t":2009.75,"p":1.7,"a":-0.62,"r":0.118,"s":0.024},{"t":2009.83,"p":1.0,"a":-0.76,"r":0.058,"s":0.013},{"t":2009.92,"p":1.4,"a":-0.71,"r":0.088,"s":0.019},
{"t":2010.00,"p":1.6,"a":-0.68,"r":0.100,"s":0.021},{"t":2010.08,"p":1.2,"a":-0.75,"r":0.072,"s":0.015},{"t":2010.17,"p":2.0,"a":-0.82,"r":0.115,"s":0.026},{"t":2010.25,"p":1.4,"a":-0.66,"r":0.090,"s":0.018},{"t":2010.33,"p":1.0,"a":-0.72,"r":0.130,"s":0.024},{"t":2010.42,"p":1.8,"a":-0.77,"r":0.062,"s":0.014},{"t":2010.50,"p":1.3,"a":-0.63,"r":0.108,"s":0.027},{"t":2010.58,"p":2.1,"a":-0.74,"r":0.085,"s":0.020},{"t":2010.67,"p":1.5,"a":-0.69,"r":0.145,"s":0.017},{"t":2010.75,"p":1.1,"a":-0.83,"r":0.098,"s":0.029},{"t":2010.83,"p":1.9,"a":-0.70,"r":0.118,"s":0.023},{"t":2010.92,"p":1.4,"a":-0.60,"r":0.080,"s":0.018},
{"t":2011.00,"p":1.7,"a":-0.72,"r":0.128,"s":0.025},{"t":2011.08,"p":2.3,"a":-0.80,"r":0.098,"s":0.031},{"t":2011.17,"p":1.2,"a":-0.66,"r":0.150,"s":0.019},{"t":2011.25,"p":1.9,"a":-0.74,"r":0.115,"s":0.028},{"t":2011.33,"p":1.5,"a":-0.69,"r":0.080,"s":0.022},{"t":2011.42,"p":2.6,"a":-0.78,"r":0.140,"s":0.035},{"t":2011.50,"p":1.1,"a":-0.63,"r":0.105,"s":0.017},{"t":2011.58,"p":2.0,"a":-0.71,"r":0.172,"s":0.026},{"t":2011.67,"p":1.6,"a":-0.86,"r":0.122,"s":0.030},{"t":2011.75,"p":2.2,"a":-0.68,"r":0.090,"s":0.021},{"t":2011.83,"p":1.3,"a":-0.75,"r":0.135,"s":0.033},{"t":2011.92,"p":1.8,"a":-0.65,"r":0.110,"s":0.024},
{"t":2012.00,"p":2.0,"a":-0.73,"r":0.132,"s":0.029},{"t":2012.08,"p":1.3,"a":-0.67,"r":0.105,"s":0.020},{"t":2012.17,"p":2.4,"a":-0.79,"r":0.158,"s":0.032},{"t":2012.25,"p":1.7,"a":-0.71,"r":0.092,"s":0.024},{"t":2012.33,"p":1.1,"a":-0.64,"r":0.128,"s":0.017},{"t":2012.42,"p":1.9,"a":-0.82,"r":0.148,"s":0.030},{"t":2012.50,"p":2.7,"a":-0.74,"r":0.078,"s":0.026},{"t":2012.58,"p":1.5,"a":-0.69,"r":0.120,"s":0.035},{"t":2012.67,"p":1.0,"a":-0.77,"r":0.140,"s":0.021},{"t":2012.75,"p":1.8,"a":-0.62,"r":0.100,"s":0.028},{"t":2012.83,"p":2.4,"a":-0.80,"r":0.165,"s":0.023},{"t":2012.92,"p":1.3,"a":-0.72,"r":0.085,"s":0.031},
{"t":2013.00,"p":1.6,"a":-0.76,"r":0.118,"s":0.022},{"t":2013.08,"p":2.2,"a":-0.68,"r":0.138,"s":0.028},{"t":2013.17,"p":1.0,"a":-0.84,"r":0.095,"s":0.019},{"t":2013.25,"p":1.8,"a":-0.71,"r":0.125,"s":0.033},{"t":2013.33,"p":1.3,"a":-0.63,"r":0.068,"s":0.024},{"t":2013.42,"p":2.4,"a":-0.77,"r":0.110,"s":0.017},{"t":2013.50,"p":1.5,"a":-0.70,"r":0.152,"s":0.027},{"t":2013.58,"p":0.8,"a":-0.66,"r":0.085,"s":0.021},{"t":2013.67,"p":1.9,"a":-0.81,"r":0.130,"s":0.030},{"t":2013.75,"p":1.2,"a":-0.73,"r":0.102,"s":0.018},{"t":2013.83,"p":1.7,"a":-0.60,"r":0.078,"s":0.026},{"t":2013.92,"p":2.6,"a":-0.78,"r":0.142,"s":0.023},
{"t":2014.00,"p":1.5,"a":-0.70,"r":0.115,"s":0.024},{"t":2014.08,"p":2.5,"a":-0.77,"r":0.160,"s":0.034},{"t":2014.17,"p":1.3,"a":-0.63,"r":0.098,"s":0.020},{"t":2014.25,"p":2.0,"a":-0.75,"r":0.135,"s":0.028},{"t":2014.33,"p":1.7,"a":-0.68,"r":0.110,"s":0.038},{"t":2014.42,"p":2.8,"a":-0.82,"r":0.172,"s":0.025},{"t":2014.50,"p":1.9,"a":-0.72,"r":0.088,"s":0.031},{"t":2014.58,"p":1.4,"a":-0.65,"r":0.140,"s":0.022},{"t":2014.67,"p":2.6,"a":-0.74,"r":0.118,"s":0.040},{"t":2014.75,"p":2.1,"a":-0.79,"r":0.165,"s":0.027},{"t":2014.83,"p":3.3,"a":-0.66,"r":0.095,"s":0.033},{"t":2014.92,"p":2.7,"a":-0.71,"r":0.145,"s":0.029},
{"t":2015.00,"p":2.3,"a":-0.72,"r":0.130,"s":0.031},{"t":2015.08,"p":3.4,"a":-0.66,"r":0.172,"s":0.040},{"t":2015.17,"p":2.0,"a":-0.79,"r":0.110,"s":0.026},{"t":2015.25,"p":2.9,"a":-0.68,"r":0.150,"s":0.035},{"t":2015.33,"p":3.7,"a":-0.75,"r":0.192,"s":0.029},{"t":2015.42,"p":2.5,"a":-0.62,"r":0.128,"s":0.043},{"t":2015.50,"p":1.8,"a":-0.77,"r":0.098,"s":0.032},{"t":2015.58,"p":2.8,"a":-0.70,"r":0.165,"s":0.024},{"t":2015.67,"p":3.2,"a":-0.83,"r":0.138,"s":0.037},{"t":2015.75,"p":2.1,"a":-0.65,"r":0.115,"s":0.030},{"t":2015.83,"p":3.0,"a":-0.73,"r":0.182,"s":0.041},{"t":2015.92,"p":2.4,"a":-0.69,"r":0.125,"s":0.027},
{"t":2016.00,"p":2.9,"a":-0.74,"r":0.140,"s":0.032},{"t":2016.08,"p":1.8,"a":-0.67,"r":0.102,"s":0.025},{"t":2016.17,"p":3.4,"a":-0.76,"r":0.165,"s":0.036},{"t":2016.25,"p":2.3,"a":-0.63,"r":0.125,"s":0.029},{"t":2016.33,"p":2.0,"a":-0.80,"r":0.092,"s":0.022},{"t":2016.42,"p":3.1,"a":-0.70,"r":0.150,"s":0.039},{"t":2016.50,"p":2.6,"a":-0.65,"r":0.118,"s":0.027},{"t":2016.58,"p":1.6,"a":-0.77,"r":0.172,"s":0.033},{"t":2016.67,"p":2.8,"a":-0.72,"r":0.098,"s":0.019},{"t":2016.75,"p":3.3,"a":-0.61,"r":0.135,"s":0.030},{"t":2016.83,"p":2.1,"a":-0.79,"r":0.112,"s":0.036},{"t":2016.92,"p":2.7,"a":-0.68,"r":0.160,"s":0.025},
{"t":2017.00,"p":2.2,"a":-0.70,"r":0.105,"s":0.029},{"t":2017.08,"p":3.0,"a":-0.77,"r":0.140,"s":0.022},{"t":2017.17,"p":1.9,"a":-0.64,"r":0.095,"s":0.033},{"t":2017.25,"p":2.6,"a":-0.73,"r":0.158,"s":0.027},{"t":2017.33,"p":1.5,"a":-0.81,"r":0.118,"s":0.020},{"t":2017.42,"p":2.4,"a":-0.67,"r":0.075,"s":0.031},{"t":2017.50,"p":3.2,"a":-0.74,"r":0.130,"s":0.025},{"t":2017.58,"p":2.0,"a":-0.60,"r":0.108,"s":0.035},{"t":2017.67,"p":2.8,"a":-0.78,"r":0.148,"s":0.018},{"t":2017.75,"p":1.7,"a":-0.70,"r":0.090,"s":0.028},{"t":2017.83,"p":2.5,"a":-0.84,"r":0.125,"s":0.032},{"t":2017.92,"p":3.1,"a":-0.66,"r":0.112,"s":0.024},
{"t":2018.00,"p":2.1,"a":-0.72,"r":0.120,"s":0.026},{"t":2018.08,"p":2.8,"a":-0.65,"r":0.092,"s":0.032},{"t":2018.17,"p":1.6,"a":-0.80,"r":0.138,"s":0.019},{"t":2018.25,"p":2.4,"a":-0.74,"r":0.082,"s":0.028},{"t":2018.33,"p":1.9,"a":-0.62,"r":0.115,"s":0.023},{"t":2018.42,"p":2.7,"a":-0.77,"r":0.150,"s":0.035},{"t":2018.50,"p":1.4,"a":-0.70,"r":0.098,"s":0.017},{"t":2018.58,"p":2.2,"a":-0.83,"r":0.125,"s":0.029},{"t":2018.67,"p":2.9,"a":-0.67,"r":0.072,"s":0.022},{"t":2018.75,"p":1.8,"a":-0.75,"r":0.110,"s":0.030},{"t":2018.83,"p":2.4,"a":-0.64,"r":0.135,"s":0.016},{"t":2018.92,"p":1.6,"a":-0.79,"r":0.090,"s":0.025},
{"t":2019.00,"p":1.8,"a":-0.70,"r":0.100,"s":0.024},{"t":2019.08,"p":2.6,"a":-0.76,"r":0.130,"s":0.029},{"t":2019.17,"p":1.4,"a":-0.63,"r":0.085,"s":0.018},{"t":2019.25,"p":2.2,"a":-0.80,"r":0.112,"s":0.026},{"t":2019.33,"p":1.7,"a":-0.72,"r":0.068,"s":0.021},{"t":2019.42,"p":2.4,"a":-0.67,"r":0.122,"s":0.031},{"t":2019.50,"p":1.3,"a":-0.78,"r":0.095,"s":0.016},{"t":2019.58,"p":2.0,"a":-0.70,"r":0.140,"s":0.025},{"t":2019.67,"p":2.7,"a":-0.84,"r":0.078,"s":0.020},{"t":2019.75,"p":1.5,"a":-0.65,"r":0.108,"s":0.028},{"t":2019.83,"p":2.1,"a":-0.74,"r":0.088,"s":0.014},{"t":2019.92,"p":1.7,"a":-0.69,"r":0.120,"s":0.023},
{"t":2020.00,"p":2.0,"a":-0.75,"r":0.092,"s":0.022},{"t":2020.08,"p":1.4,"a":-0.68,"r":0.068,"s":0.017},{"t":2020.17,"p":2.3,"a":-0.79,"r":0.115,"s":0.026},{"t":2020.25,"p":1.6,"a":-0.72,"r":0.082,"s":0.013},{"t":2020.33,"p":1.2,"a":-0.63,"r":0.100,"s":0.021},{"t":2020.42,"p":2.1,"a":-0.81,"r":0.060,"s":0.018},{"t":2020.50,"p":1.5,"a":-0.70,"r":0.125,"s":0.024},{"t":2020.58,"p":2.4,"a":-0.76,"r":0.078,"s":0.015},{"t":2020.67,"p":1.8,"a":-0.66,"r":0.105,"s":0.028},{"t":2020.75,"p":1.3,"a":-0.84,"r":0.065,"s":0.019},{"t":2020.83,"p":2.0,"a":-0.73,"r":0.092,"s":0.023},{"t":2020.92,"p":1.7,"a":-0.62,"r":0.130,"s":0.017},{"t":2021.00,"p":1.8,"a":-0.70,"r":0.112,"s":0.026},
{"t":1998.35,"p":6.39},{"t":2000.9,"p":6.17},{"t":2002.01,"p":6.31},{"t":2003.4,"p":9.17},{"t":2005.04,"p":7.03},{"t":2004.85,"p":5.44},{"t":2005.07,"p":5.29},{"t":2004.83,"p":4.95},{"t":2005.72,"p":4.68},{"t":2015.47,"p":5.56},{"t":2015.99,"p":5.27},{"t":2015.3,"p":4.83},{"t":1998.82,"p":4.7},{"t":1999.69,"p":4.57},{"t":2000.17,"p":4.83},{"t":2000.45,"p":4.84},{"t":2000.73,"p":4.87},{"t":2001.23,"p":5.02},{"t":2001.88,"p":5.17},{"t":2001.84,"p":4.8},{"t":2002.23,"p":4.35},{"t":2002.9,"p":4.57},{"t":2003.83,"p":4.4},{"t":2011.72,"p":4.1},{"t":2012.22,"p":4.17},{"t":2014.71,"p":4.03},{"t":1998.61,"p":0.44},{"t":2001.49,"p":0.57},{"t":2005.76,"p":0.55},{"t":2006.91,"p":0.49},{"t":2012.54,"p":0.47},{"t":2020.93,"p":0.64},{"t":2015.0,"p":3.95},{"t":2015.2,"p":3.85},{"t":2016.5,"p":3.9},{"t":2017.0,"p":3.75},{"t":2017.5,"p":3.7},{"t":2004.9,"p":4.05},{"t":2005.15,"p":3.98},{"t":2005.5,"p":3.85},{"t":2006.3,"p":3.78},{"t":2006.5,"p":3.9},
{"t":1999.97,"a":-0.303},{"t":2001.11,"a":-0.391},{"t":2001.81,"a":-0.243},{"t":2003.93,"a":-0.28},{"t":2005.03,"a":-0.337},{"t":2014.81,"a":-0.214},{"t":2016.02,"a":-0.36},{"t":2016.49,"a":-0.386},{"t":2014.42,"a":-0.399},{"t":2010.31,"a":-0.393},{"t":2011.74,"a":-0.437},{"t":2017.66,"a":-0.45},{"t":2020.43,"a":-0.437},{"t":2005.7,"a":-0.986},{"t":2010.57,"a":-0.958},{"t":2019.22,"a":-1.062},{"t":2019.61,"a":-0.96},{"t":2018.14,"a":-0.952},{"t":2006.2,"a":-0.955},{"t":1998.58,"a":-0.906},{"t":2000.25,"a":-0.889},{"t":2006.65,"a":-0.92},{"t":2012.08,"a":-0.92},{"t":2012.82,"a":-0.915},{"t":2013.55,"a":-0.931},{"t":2015.93,"a":-0.92},{"t":2017.3,"a":-0.92},{"t":2018.72,"a":-0.905},{"t":2020.8,"a":-0.905},{"t":2007.82,"a":-0.452},{"t":2007.95,"a":-0.47},{"t":2008.04,"a":-0.49},{"t":2008.3,"a":-0.5},{"t":2001.2,"a":-0.47},{"t":2001.5,"a":-0.462},{"t":1998.3,"a":-0.497},{"t":1999.97,"a":-0.495},{"t":2003.0,"a":-0.485},{"t":2002.6,"a":-0.464},{"t":2009.92,"a":-0.453},{"t":2011.3,"a":-0.475},{"t":2013.5,"a":-0.5},{"t":2014.05,"a":-0.525},{"t":2019.0,"a":-0.52},{"t":2020.9,"a":-0.52},
{"t":2005.07,"r":0.529},{"t":2004.57,"r":0.512},{"t":2004.59,"r":0.414},{"t":2005.54,"r":0.407},{"t":2004.07,"r":0.364},{"t":2013.56,"r":0.411},{"t":2000.08,"r":0.391},{"t":2001.55,"r":0.387},{"t":2001.25,"r":0.373},{"t":2015.04,"r":0.373},{"t":2003.96,"r":0.379},{"t":2003.05,"r":0.334},{"t":2000.02,"r":0.332},{"t":2001.27,"r":0.329},{"t":2011.5,"r":0.333},{"t":2012.52,"r":0.344},{"t":2016.01,"r":0.3415},{"t":2016.02,"r":0.322},{"t":2005.98,"r":0.319},{"t":2004.89,"r":0.319},{"t":2013.04,"r":0.314},{"t":2007.02,"r":0.302},{"t":2016.0,"r":0.298},{"t":2015.95,"r":0.2875},{"t":1998.5,"r":0.296},{"t":1998.56,"r":0.285},{"t":1999.6,"r":0.283},{"t":2000.99,"r":0.298},{"t":2003.03,"r":0.285},{"t":2003.98,"r":0.296},{"t":2005.5,"r":0.291},{"t":2010.48,"r":0.28},{"t":2010.5,"r":0.265},{"t":2019.63,"r":0.251},{"t":2018.11,"r":0.251},{"t":2018.98,"r":0.239},{"t":2013.34,"r":0.031},{"t":2009.83,"r":0.035},{"t":2009.23,"r":0.042},{"t":2015.3,"r":0.049},{"t":1998.1,"r":0.262},{"t":1998.3,"r":0.245},{"t":1999.2,"r":0.235},{"t":2000.7,"r":0.225},{"t":2001.8,"r":0.265},{"t":2002.2,"r":0.255},{"t":2003.5,"r":0.25},{"t":2004.3,"r":0.245},{"t":2005.2,"r":0.24},{"t":2006.2,"r":0.245},{"t":2007.4,"r":0.24},{"t":2008.5,"r":0.222},{"t":2011.6,"r":0.228},{"t":2012.3,"r":0.262},{"t":2014.0,"r":0.248},{"t":2016.3,"r":0.22},{"t":2017.5,"r":0.205},{"t":2020.3,"r":0.215},{"t":2020.5,"r":0.205},
{"t":2005.01,"s":0.1274},{"t":2005.03,"s":0.115},{"t":1999.99,"s":0.1072},{"t":1999.97,"s":0.098},{"t":2000.1,"s":0.0968},{"t":2003.97,"s":0.0983},{"t":2003.98,"s":0.0935},{"t":2003.99,"s":0.0903},{"t":2016.54,"s":0.0979},{"t":2007.97,"s":0.0896},{"t":2001.48,"s":0.0878},{"t":1998.61,"s":0.0815},{"t":2006.03,"s":0.0817},{"t":2004.58,"s":0.0858},{"t":2004.51,"s":0.0799},{"t":2005.53,"s":0.0799},{"t":2004.04,"s":0.0792},{"t":2013.47,"s":0.0771},{"t":2014.96,"s":0.0788},{"t":2012.51,"s":0.0785},{"t":2020.47,"s":0.074},{"t":1999.0,"s":0.0733},{"t":2003.02,"s":0.0743},{"t":2006.96,"s":0.0706},{"t":2007.5,"s":0.0572},{"t":2018.96,"s":0.0604},{"t":2013.7,"s":0.069},{"t":2013.27,"s":0.0058},{"t":2009.66,"s":0.0083},{"t":2020.32,"s":0.0083},{"t":1998.0,"s":0.061},{"t":1998.8,"s":0.061},{"t":1999.5,"s":0.056},{"t":2000.5,"s":0.062},{"t":2001.2,"s":0.073},{"t":2001.6,"s":0.065},{"t":2001.9,"s":0.072},{"t":2002.4,"s":0.058},{"t":2003.1,"s":0.064},{"t":2003.6,"s":0.06},{"t":2004.3,"s":0.055},{"t":2005.05,"s":0.063},{"t":2006.2,"s":0.054},{"t":2007.2,"s":0.063},{"t":2008.5,"s":0.054},{"t":2010.5,"s":0.064},{"t":2011.5,"s":0.061},{"t":2012.0,"s":0.064},{"t":2014.0,"s":0.065},{"t":2014.8,"s":0.064},{"t":2016.2,"s":0.064},{"t":2017.0,"s":0.053},{"t":2018.2,"s":0.056},{"t":2019.4,"s":0.047},{"t":2020.1,"s":0.051},{"t":2021.0,"s":0.044}
]
},
"concat":[
{
 "width":390,"height":322,
 "encoding":{
  "x":{"field":"t","type":"quantitative","scale":{"domain":[1996.85,2022.15],"nice":false,"zero":false},"axis":{"values":[1998,2000,2002,2004,2006,2008,2010,2012,2014,2016,2018,2020],"labels":false,"title":null}},
  "y":{"field":"p","type":"quantitative","scale":{"domain":[0.01,9.62],"nice":false,"zero":false},"axis":{"values":[2,4,6,8],"format":"d","title":"P̄dyn (nPa)","titlePadding":17}}
 },
 "layer":[
  {"data":{"name":"pts"},"mark":{"type":"point","filled":true,"shape":"circle","size":7,"color":"#1f77b4","opacity":1}},
  {"data":{"name":"lp"},"mark":{"type":"line","color":"#ff7f0e","strokeWidth":1.5}},
  {"data":{"name":"cs"},"mark":{"type":"point","filled":true,"size":170,"opacity":1},
   "encoding":{
    "color":{"field":"c","type":"nominal","scale":{"domain":["C1","C2","C3","C4","C5","C6"],"range":["#2ca02c","#d62728","#9467bd","#8c564b","#e377c2","#bcbd22"]},"legend":{"title":null,"orient":"none","legendX":330,"legendY":6,"fillColor":"white","strokeColor":"#d0d0d0","cornerRadius":3,"padding":6,"symbolSize":140,"symbolStrokeWidth":0,"labelFontSize":11.5,"labelOffset":13,"rowPadding":4.5,"labelColor":"#222222","symbolOpacity":1}},
    "shape":{"field":"c","type":"nominal","scale":{"domain":["C1","C2","C3","C4","C5","C6"],"range":["circle","M0,-1L0.2245,-0.309L0.951,-0.309L0.3633,0.118L0.588,0.809L0,0.382L-0.588,0.809L-0.3633,0.118L-0.951,-0.309L-0.2245,-0.309Z","triangle-up","square","M0,-1L0.951,-0.309L0.588,0.809L-0.588,0.809L-0.951,-0.309Z","M1,0L0.5,0.866L-0.5,0.866L-1,0L-0.5,-0.866L0.5,-0.866Z"]},"legend":{"title":null,"orient":"none","legendX":330,"legendY":6,"fillColor":"white","strokeColor":"#d0d0d0","cornerRadius":3,"padding":6,"symbolSize":140,"symbolStrokeWidth":0,"labelFontSize":11.5,"labelOffset":13,"rowPadding":4.5,"labelColor":"#222222","symbolOpacity":1}}
   }}
 ]
},
{
 "width":383,"height":322,
 "view":{"stroke":null},
 "resolve":{"axis":{"x":"independent"}},
 "encoding":{
  "y":{"field":"a","type":"quantitative","scale":{"domain":[-1.105,-0.171],"nice":false,"zero":false},"axis":{"values":[-1.0,-0.8,-0.6,-0.4,-0.2],"format":".1f","title":"α","titleFontStyle":"italic","titlePadding":5}}
 },
 "layer":[
  {"data":{"name":"pts"},"mark":{"type":"point","filled":true,"shape":"circle","size":7,"color":"#1f77b4","opacity":1},
   "encoding":{"x":{"field":"t","type":"quantitative","scale":{"domain":[1996.85,2021.72],"nice":false,"zero":false},"axis":{"values":[1998,2000,2002,2004,2006,2008,2010,2012,2014,2016,2018,2020],"labels":false,"title":null}}}},
  {"data":{"name":"la"},"mark":{"type":"line","color":"#ff7f0e","strokeWidth":1.5},
   "encoding":{"x":{"field":"t","type":"quantitative","axis":{"orient":"top","labels":false,"ticks":false,"title":null,"domain":true}}}},
  {"data":{"name":"cs"},"mark":{"type":"point","filled":true,"size":170,"opacity":1},
   "encoding":{
    "x":{"field":"t","type":"quantitative","axis":null},
    "color":{"field":"c","type":"nominal","scale":{"domain":["C1","C2","C3","C4","C5","C6"],"range":["#2ca02c","#d62728","#9467bd","#8c564b","#e377c2","#bcbd22"]},"legend":{"title":null,"orient":"none","legendX":330,"legendY":6,"fillColor":"white","strokeColor":"#d0d0d0","cornerRadius":3,"padding":6,"symbolSize":140,"symbolStrokeWidth":0,"labelFontSize":11.5,"labelOffset":13,"rowPadding":4.5,"labelColor":"#222222","symbolOpacity":1}},
    "shape":{"field":"c","type":"nominal","scale":{"domain":["C1","C2","C3","C4","C5","C6"],"range":["circle","M0,-1L0.2245,-0.309L0.951,-0.309L0.3633,0.118L0.588,0.809L0,0.382L-0.588,0.809L-0.3633,0.118L-0.951,-0.309L-0.2245,-0.309Z","triangle-up","square","M0,-1L0.951,-0.309L0.588,0.809L-0.588,0.809L-0.951,-0.309Z","M1,0L0.5,0.866L-0.5,0.866L-1,0L-0.5,-0.866L0.5,-0.866Z"]},"legend":{"title":null,"orient":"none","legendX":330,"legendY":6,"fillColor":"white","strokeColor":"#d0d0d0","cornerRadius":3,"padding":6,"symbolSize":140,"symbolStrokeWidth":0,"labelFontSize":11.5,"labelOffset":13,"rowPadding":4.5,"labelColor":"#222222","symbolOpacity":1}}
   }}
 ]
},
{
 "width":390,"height":323,
 "encoding":{
  "x":{"field":"t","type":"quantitative","scale":{"domain":[1996.85,2022.15],"nice":false,"zero":false},"axis":{"values":[1998,2000,2002,2004,2006,2008,2010,2012,2014,2016,2018,2020],"format":"d","labelAngle":-60,"title":"Year","titlePadding":7}},
  "y":{"field":"r","type":"quantitative","scale":{"domain":[0.005,0.5545],"nice":false,"zero":false},"axis":{"values":[0.1,0.2,0.3,0.4,0.5],"format":".1f","title":"R1mHz","titlePadding":12}}
 },
 "layer":[
  {"data":{"name":"pts"},"mark":{"type":"point","filled":true,"shape":"circle","size":7,"color":"#1f77b4","opacity":1}},
  {"data":{"name":"lr"},"mark":{"type":"line","color":"#ff7f0e","strokeWidth":1.5}},
  {"data":{"name":"cs"},"mark":{"type":"point","filled":true,"size":170,"opacity":1},
   "encoding":{
    "color":{"field":"c","type":"nominal","scale":{"domain":["C1","C2","C3","C4","C5","C6"],"range":["#2ca02c","#d62728","#9467bd","#8c564b","#e377c2","#bcbd22"]},"legend":{"title":null,"orient":"none","legendX":330,"legendY":6,"fillColor":"white","strokeColor":"#d0d0d0","cornerRadius":3,"padding":6,"symbolSize":140,"symbolStrokeWidth":0,"labelFontSize":11.5,"labelOffset":13,"rowPadding":4.5,"labelColor":"#222222","symbolOpacity":1}},
    "shape":{"field":"c","type":"nominal","scale":{"domain":["C1","C2","C3","C4","C5","C6"],"range":["circle","M0,-1L0.2245,-0.309L0.951,-0.309L0.3633,0.118L0.588,0.809L0,0.382L-0.588,0.809L-0.3633,0.118L-0.951,-0.309L-0.2245,-0.309Z","triangle-up","square","M0,-1L0.951,-0.309L0.588,0.809L-0.588,0.809L-0.951,-0.309Z","M1,0L0.5,0.866L-0.5,0.866L-1,0L-0.5,-0.866L0.5,-0.866Z"]},"legend":{"title":null,"orient":"none","legendX":330,"legendY":6,"fillColor":"white","strokeColor":"#d0d0d0","cornerRadius":3,"padding":6,"symbolSize":140,"symbolStrokeWidth":0,"labelFontSize":11.5,"labelOffset":13,"rowPadding":4.5,"labelColor":"#222222","symbolOpacity":1}}
   }}
 ]
},
{
 "width":383,"height":323,
 "view":{"stroke":null},
 "resolve":{"axis":{"x":"independent"}},
 "encoding":{
  "y":{"field":"s","type":"quantitative","scale":{"domain":[-0.0007,0.1339],"nice":false,"zero":false},"axis":{"values":[0,0.03,0.06,0.09,0.12],"labelExpr":"datum.value == 0 ? '0.0' : format(datum.value, '.2f')","title":"R6mHz","titlePadding":13}}
 },
 "layer":[
  {"data":{"name":"pts"},"mark":{"type":"point","filled":true,"shape":"circle","size":7,"color":"#1f77b4","opacity":1},
   "encoding":{"x":{"field":"t","type":"quantitative","scale":{"domain":[1996.85,2021.72],"nice":false,"zero":false},"axis":{"values":[1998,2000,2002,2004,2006,2008,2010,2012,2014,2016,2018,2020],"format":"d","labelAngle":-60,"title":"Year","titlePadding":7}}}},
  {"data":{"name":"ls"},"mark":{"type":"line","color":"#ff7f0e","strokeWidth":1.5},
   "encoding":{"x":{"field":"t","type":"quantitative","axis":{"orient":"top","labels":false,"ticks":false,"title":null,"domain":true}}}},
  {"data":{"name":"cs"},"mark":{"type":"point","filled":true,"size":170,"opacity":1},
   "encoding":{
    "x":{"field":"t","type":"quantitative","axis":null},
    "color":{"field":"c","type":"nominal","scale":{"domain":["C1","C2","C3","C4","C5","C6"],"range":["#2ca02c","#d62728","#9467bd","#8c564b","#e377c2","#bcbd22"]},"legend":{"title":null,"orient":"none","legendX":330,"legendY":6,"fillColor":"white","strokeColor":"#d0d0d0","cornerRadius":3,"padding":6,"symbolSize":140,"symbolStrokeWidth":0,"labelFontSize":11.5,"labelOffset":13,"rowPadding":4.5,"labelColor":"#222222","symbolOpacity":1}},
    "shape":{"field":"c","type":"nominal","scale":{"domain":["C1","C2","C3","C4","C5","C6"],"range":["circle","M0,-1L0.2245,-0.309L0.951,-0.309L0.3633,0.118L0.588,0.809L0,0.382L-0.588,0.809L-0.3633,0.118L-0.951,-0.309L-0.2245,-0.309Z","triangle-up","square","M0,-1L0.951,-0.309L0.588,0.809L-0.588,0.809L-0.951,-0.309Z","M1,0L0.5,0.866L-0.5,0.866L-1,0L-0.5,-0.866L0.5,-0.866Z"]},"legend":{"title":null,"orient":"none","legendX":330,"legendY":6,"fillColor":"white","strokeColor":"#d0d0d0","cornerRadius":3,"padding":6,"symbolSize":140,"symbolStrokeWidth":0,"labelFontSize":11.5,"labelOffset":13,"rowPadding":4.5,"labelColor":"#222222","symbolOpacity":1}}
   }}
 ]
}
]
}
